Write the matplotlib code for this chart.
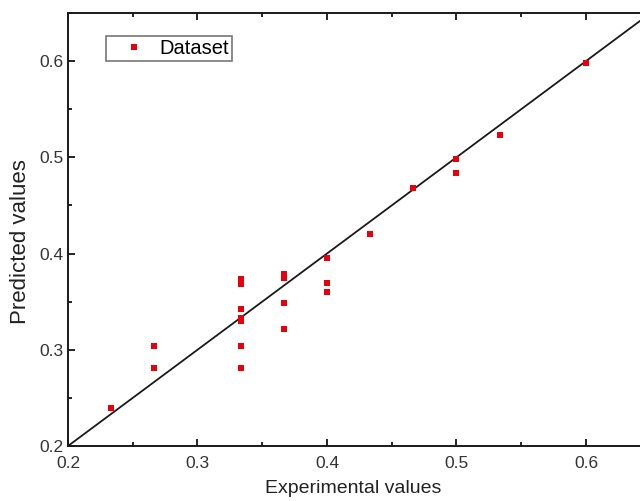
import matplotlib.pyplot as plt
from matplotlib.ticker import MultipleLocator

plt.rcParams['font.family'] = ['Liberation Sans', 'DejaVu Sans']

# data
experimental = [0.2333, 0.2667, 0.2667,
                0.3333, 0.3333, 0.3333, 0.3333, 0.3333, 0.3333, 0.3333, 0.3333,
                0.3667, 0.3667, 0.3667, 0.3667,
                0.4, 0.4, 0.4,
                0.4333, 0.4667, 0.5, 0.5, 0.5333, 0.6]
predicted = [0.239, 0.304, 0.281,
             0.374, 0.371, 0.368, 0.342, 0.333, 0.330, 0.304, 0.281,
             0.379, 0.375, 0.349, 0.322,
             0.395, 0.369, 0.360,
             0.420, 0.468, 0.498, 0.484, 0.523, 0.598]
diag = [0.2, 0.65]

fig = plt.figure(figsize=(6.4, 5.01), dpi=100)
ax = fig.add_axes([0.10625, 0.1098, 0.9105, 0.8643])

ax.plot(diag, diag, color='#1a1a1a', lw=1.3, zorder=2)
ax.plot(experimental, predicted, 's', color='#e8000b', markersize=4.5,
        markeredgewidth=0, label='Dataset', zorder=3)

ax.set_xlim(0.2, 0.65)
ax.set_ylim(0.2, 0.65)
ax.xaxis.set_minor_locator(MultipleLocator(0.05))
ax.yaxis.set_minor_locator(MultipleLocator(0.05))
ax.set_xticks([0.2, 0.3, 0.4, 0.5, 0.6])
ax.set_xticklabels(['0.2', '0.3', '0.4', '0.5', '0.6'])
ax.set_yticks([0.2, 0.3, 0.4, 0.5, 0.6])
ax.set_yticklabels(['0.2', '0.3', '0.4', '0.5', '0.6'])

ax.tick_params(which='both', direction='in', top=True, right=True,
               labelsize=12.5, labelcolor='#333333', width=1.2)
ax.tick_params(which='major', length=5)
ax.tick_params(axis='x', which='major', pad=7)
ax.tick_params(axis='y', which='major', pad=3)
ax.tick_params(which='minor', length=3)
for s in ax.spines.values():
    s.set_linewidth(1.4)
    s.set_color('#1a1a1a')

ax.set_xlabel('Experimental values', fontsize=14, color='#222222')
ax.set_ylabel('Predicted values', fontsize=16, color='#222222')
ax.xaxis.set_label_coords(0.49, -0.078)
ax.yaxis.set_label_coords(-0.0635, 0.471)

leg = ax.legend(loc='upper left', bbox_to_anchor=(0.0652, 0.947), fontsize=14.5,
                fancybox=False, framealpha=1, edgecolor='#777777',
                handlelength=2.5, handletextpad=0.0, borderpad=0.15,
                borderaxespad=0, markerscale=1.0)
leg.get_frame().set_linewidth(1.2)

plt.savefig('out.png', dpi=100)
